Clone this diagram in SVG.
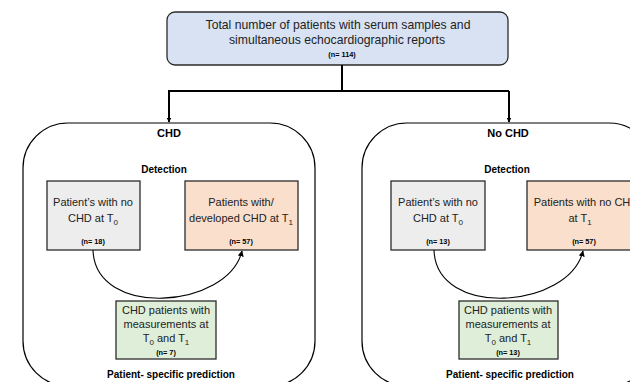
<svg xmlns="http://www.w3.org/2000/svg" width="630" height="382" viewBox="0 0 630 382">
<defs>
<marker id="ah" viewBox="0 0 10 10" refX="9" refY="5" markerWidth="5" markerHeight="5" orient="auto" markerUnits="userSpaceOnUse">
<path d="M0,0 L10,5 L0,10 z" fill="#000"/>
</marker>
<marker id="ah2" viewBox="0 0 10 10" refX="9" refY="5" markerWidth="6" markerHeight="6" orient="auto" markerUnits="userSpaceOnUse">
<path d="M0,0 L10,5 L0,10 z" fill="#000"/>
</marker>
</defs>
<style>
text{font-family:"Liberation Sans",Arial,sans-serif;fill:#222;text-anchor:middle}
.t{font-size:12.2px}
.b{font-size:11px}
.h{font-size:11px;font-weight:bold;fill:#000}
.l{font-size:10px;font-weight:bold;fill:#000}
.n{font-size:7.3px;font-weight:bold;fill:#000}
.box{stroke:#2b2b2b;stroke-width:1.3}
.cont{fill:#fff;stroke:#000;stroke-width:1.2}
.gray{fill:#ededed}
.orange{fill:#f9dfcc}
.green{fill:#dfeed8}
.blue{fill:#d9e2f2}
.conn{fill:none;stroke:#000;stroke-width:2}
.curve{fill:none;stroke:#000;stroke-width:1.1}
.sub{font-size:8px}
</style>
<g id="chd-group">
<rect class="cont" x="23" y="123" width="292" height="263" rx="45" ry="45"/>
<text class="h" x="169" y="137">CHD</text>
<text class="l" x="164" y="173">Detection</text>
<text class="l" x="171" y="378">Patient- specific prediction</text>
</g>
<g id="nochd-group">
<rect class="cont" x="362" y="123" width="292" height="263" rx="45" ry="45"/>
<text class="h" x="508" y="137">No CHD</text>
<text class="l" x="507" y="173">Detection</text>
<text class="l" x="510" y="378">Patient- specific prediction</text>
</g>
<g id="total">
<rect class="box blue" x="167" y="12" width="341" height="53" rx="8" ry="8"/>
<text class="t" x="338" y="29">Total number of patients with serum samples and</text>
<text class="t" x="337" y="44">simultaneous echocardiographic reports</text>
<text class="n" x="342" y="57">(n= 114)</text>
</g>
<g id="chd-t0">
<rect class="box gray" x="47" y="181" width="93" height="69"/>
<text class="b" x="93" y="206">Patient’s with no</text>
<text class="b" x="93" y="222">CHD at T<tspan class="sub" dy="2.5">0</tspan></text>
<text class="n" x="93" y="244">(n= 18)</text>
</g>
<g id="chd-t1">
<rect class="box orange" x="185" y="181" width="113" height="69"/>
<text class="b" x="241" y="206">Patients with/</text>
<text class="b" x="241" y="222">developed  CHD at T<tspan class="sub" dy="2.5">1</tspan></text>
<text class="n" x="241" y="244">(n= 57)</text>
</g>
<g id="chd-pred">
<rect class="box green" x="116" y="301" width="100" height="58"/>
<text class="b" x="166" y="314">CHD patients with</text>
<text class="b" x="166" y="328">measurements  at</text>
<text class="b" x="166" y="342">T<tspan class="sub" dy="2.5">0</tspan><tspan dy="-2.5"> and T</tspan><tspan class="sub" dy="2.5">1</tspan></text>
<text class="n" x="166" y="355">(n= 7)</text>
</g>
<g id="nochd-t0">
<rect class="box gray" x="391" y="181" width="94" height="69"/>
<text class="b" x="438" y="206">Patient’s with no</text>
<text class="b" x="438" y="222">CHD at T<tspan class="sub" dy="2.5">0</tspan></text>
<text class="n" x="438" y="244">(n= 13)</text>
</g>
<g id="nochd-t1">
<rect class="box orange" x="527" y="181" width="113" height="69"/>
<text class="b" x="586" y="206">Patients with no CHD</text>
<text class="b" x="580" y="222">at T<tspan class="sub" dy="2.5">1</tspan></text>
<text class="n" x="584" y="244">(n= 57)</text>
</g>
<g id="nochd-pred">
<rect class="box green" x="459" y="301" width="99" height="58"/>
<text class="b" x="508" y="314">CHD patients with</text>
<text class="b" x="508" y="328">measurements  at</text>
<text class="b" x="508" y="342">T<tspan class="sub" dy="2.5">0</tspan><tspan dy="-2.5"> and T</tspan><tspan class="sub" dy="2.5">1</tspan></text>
<text class="n" x="508" y="355">(n= 13)</text>
</g>
<g id="connectors">
<path class="conn" d="M342,65 V91"/>
<path class="conn" d="M168,91 H509"/>
<path class="conn" d="M169,91 V122" marker-end="url(#ah)"/>
<path class="conn" d="M509,91 V122" marker-end="url(#ah)"/>
<path class="curve" d="M93,250 C95,319 228,309 242,251" marker-end="url(#ah2)"/>
<path class="curve" d="M434,250 C436,319 569,309 583,251" marker-end="url(#ah2)"/>
</g>
</svg>
